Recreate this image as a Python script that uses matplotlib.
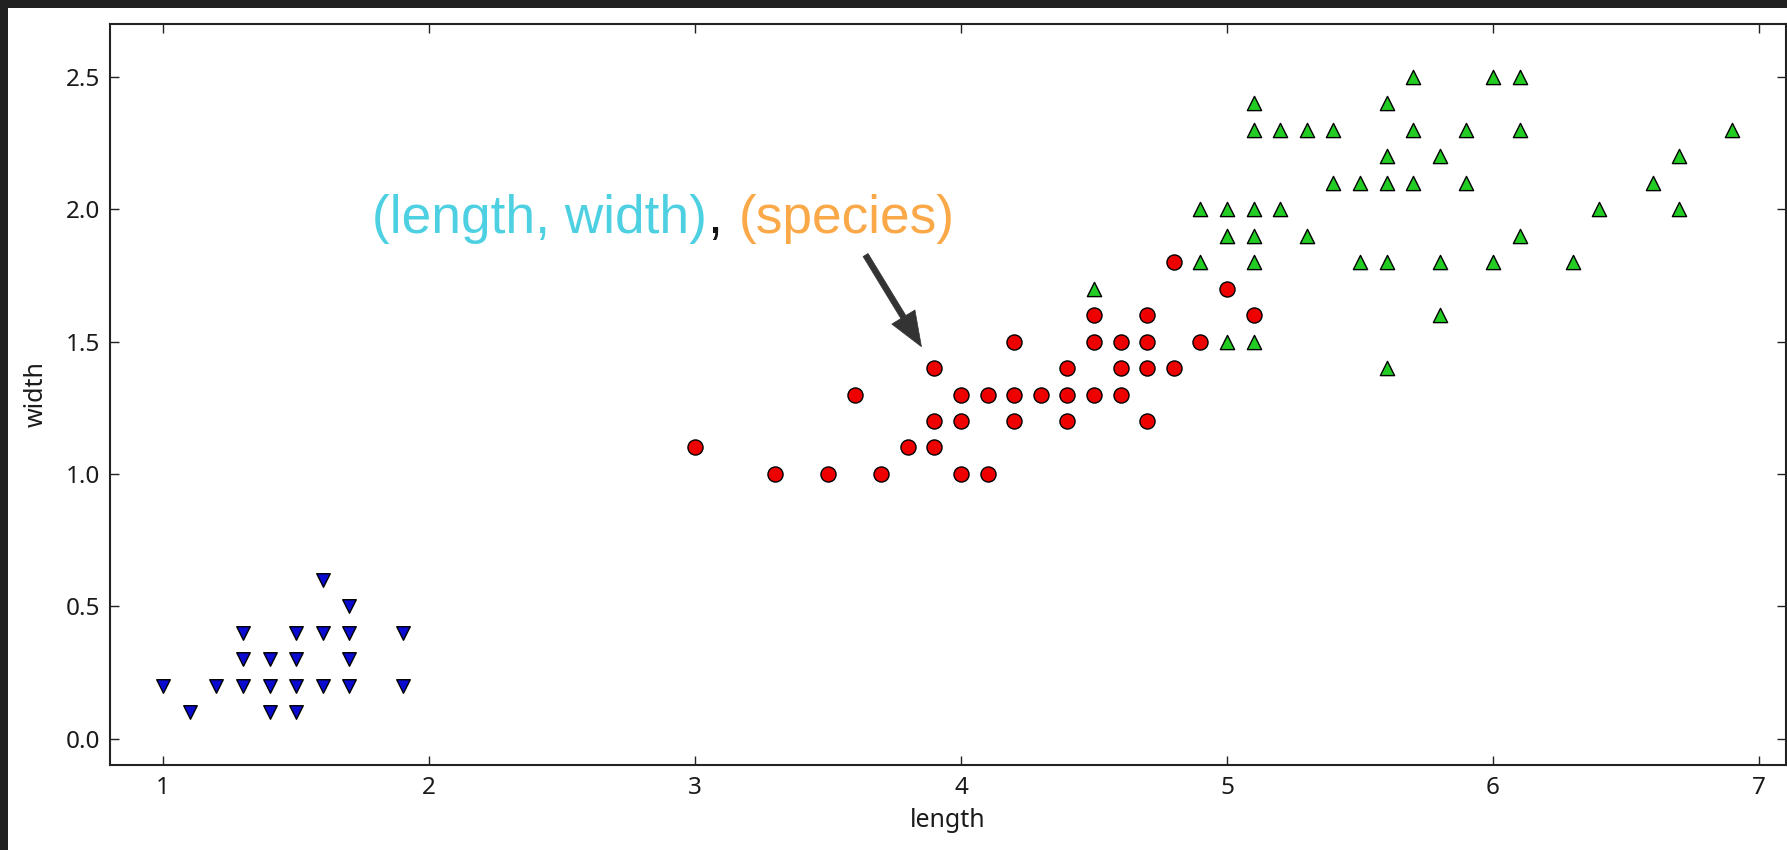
import matplotlib
matplotlib.use("Agg")
import matplotlib.pyplot as plt
from matplotlib.patches import Rectangle

# Iris petal measurements (length, width) per species
setosa_length = [1.0, 1.1, 1.2, 1.3, 1.3, 1.3, 1.4, 1.4, 1.4, 1.5, 1.5, 1.5, 1.5,
                 1.6, 1.6, 1.6, 1.7, 1.7, 1.7, 1.7, 1.9, 1.9]
setosa_width = [0.2, 0.1, 0.2, 0.2, 0.3, 0.4, 0.1, 0.2, 0.3, 0.1, 0.2, 0.3, 0.4,
                0.2, 0.4, 0.6, 0.2, 0.3, 0.4, 0.5, 0.2, 0.4]

versicolor_length = [3.0, 3.3, 3.5, 3.6, 3.7, 3.8, 3.9, 3.9, 3.9, 4.0, 4.0, 4.0,
                     4.1, 4.1, 4.2, 4.2, 4.2, 4.3, 4.4, 4.4, 4.4, 4.5, 4.5, 4.5,
                     4.6, 4.6, 4.6, 4.7, 4.7, 4.7, 4.7, 4.8, 4.8, 4.9, 5.0, 5.1]
versicolor_width = [1.1, 1.0, 1.0, 1.3, 1.0, 1.1, 1.4, 1.2, 1.1, 1.3, 1.2, 1.0,
                    1.3, 1.0, 1.5, 1.3, 1.2, 1.3, 1.4, 1.3, 1.2, 1.6, 1.5, 1.3,
                    1.5, 1.4, 1.3, 1.6, 1.5, 1.4, 1.2, 1.8, 1.4, 1.5, 1.7, 1.6]

virginica_length = [4.5, 4.9, 4.9, 5.0, 5.0, 5.0, 5.1, 5.1, 5.1, 5.1, 5.1, 5.1,
                    5.2, 5.2, 5.3, 5.3, 5.4, 5.4, 5.5, 5.5, 5.6, 5.6, 5.6, 5.6, 5.6,
                    5.7, 5.7, 5.7, 5.8, 5.8, 5.8, 5.9, 5.9, 6.0, 6.0, 6.1, 6.1, 6.1,
                    6.3, 6.4, 6.6, 6.7, 6.7, 6.9]
virginica_width = [1.7, 2.0, 1.8, 2.0, 1.9, 1.5, 2.4, 2.3, 2.0, 1.9, 1.8, 1.5,
                   2.3, 2.0, 2.3, 1.9, 2.3, 2.1, 2.1, 1.8, 2.4, 2.2, 2.1, 1.8, 1.4,
                   2.5, 2.3, 2.1, 2.2, 1.8, 1.6, 2.3, 2.1, 2.5, 1.8, 2.5, 2.3, 1.9,
                   1.8, 2.0, 2.1, 2.2, 2.0, 2.3]

# Highlighted sample and its callout
highlight = (3.9, 1.4)
label_parts = [("(length, width)", "#4DD0E1"), (",", "#111111"), ("(species)", "#FBA948")]

x_ticks = [1, 2, 3, 4, 5, 6, 7]
y_ticks = [0.0, 0.5, 1.0, 1.5, 2.0, 2.5]

W, H, DPI = 1787, 850, 100
plt.rcParams["font.family"] = ["Noto Sans", "DejaVu Sans"]

fig = plt.figure(figsize=(W / DPI, H / DPI), dpi=DPI)
fig.patch.set_facecolor("#212121")
fig.add_artist(Rectangle((8 / W, 0), 1, (H - 8) / H, transform=fig.transFigure,
                         facecolor="white", edgecolor="none", zorder=-5))

ax = fig.add_axes([110 / W, 85 / H, 1675.5 / W, 741 / H])

ax.scatter(setosa_length, setosa_width, marker="v", s=95, c="#0a0ad0",
           edgecolors="black", linewidths=1.0, zorder=3)
ax.scatter(versicolor_length, versicolor_width, marker="o", s=118, c="#ee0000",
           edgecolors="black", linewidths=1.0, zorder=3)
ax.scatter(virginica_length, virginica_width, marker="^", s=105, c="#22cc22",
           edgecolors="black", linewidths=1.0, zorder=3)

ax.set_xlim(0.8, 7.1)
ax.set_ylim(-0.1, 2.7)
ax.set_xticks(x_ticks)
ax.set_xticklabels([str(t) for t in x_ticks])
ax.set_yticks(y_ticks)
ax.set_yticklabels([f"{t:.1f}" for t in y_ticks])

ax.tick_params(axis="both", direction="in", length=6.5, width=1.0, colors="#222222",
               labelsize=17.5, labelcolor="#1a1a1a", top=True, right=True)
ax.tick_params(axis="x", pad=8)
ax.tick_params(axis="y", pad=7)
for sp in ax.spines.values():
    sp.set_linewidth(1.5)
    sp.set_color("#222222")

ax.set_xlabel("length", fontsize=18, color="#1a1a1a", labelpad=6)
ax.set_ylabel("width", fontsize=18, color="#1a1a1a", labelpad=12)

# Multi-coloured callout text, pieces chained left to right
prev = ax.text(1.787, 1.91, label_parts[0][0], color=label_parts[0][1],
               fontsize=38.3, family=["Liberation Sans"], va="baseline", ha="left")
gaps = [0, 17]
for (txt, col), gap in zip(label_parts[1:], gaps):
    prev = ax.annotate(txt, xy=(1, 0), xycoords=prev, xytext=(gap, 0),
                       textcoords="offset pixels", color=col, fontsize=38.3,
                       family=["Liberation Sans"], va="bottom", ha="left")

ax.annotate("", xy=highlight, xytext=(3.641, 1.827),
            arrowprops=dict(arrowstyle="simple,head_length=25,head_width=19.5,tail_width=4.2",
                            mutation_scale=1, color="#333333", lw=0.5,
                            shrinkA=0, shrinkB=18))

fig.savefig("out.png", dpi=DPI, facecolor=fig.get_facecolor())
